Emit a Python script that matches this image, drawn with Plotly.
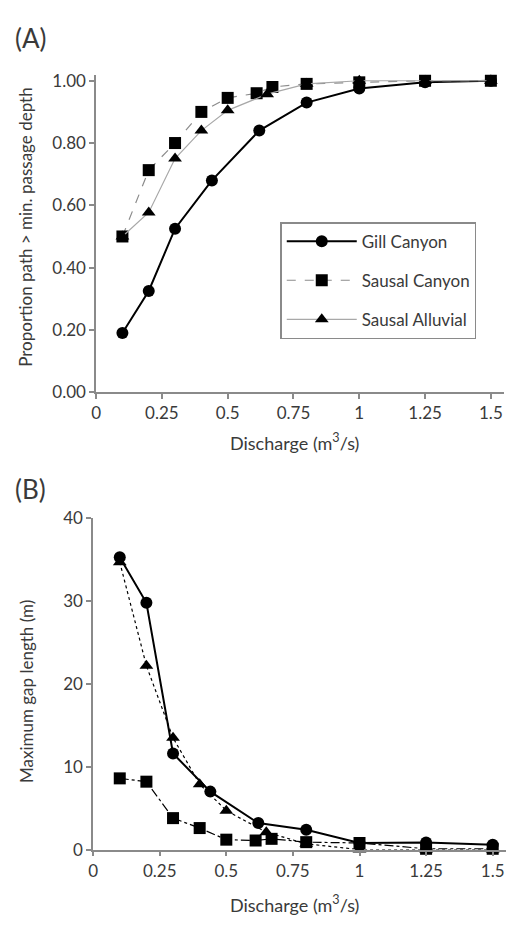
import plotly.graph_objects as go

# ---- Data (panel A: proportion of path deeper than min. passage depth) ----
gill_x = [0.1, 0.2, 0.3, 0.44, 0.62, 0.8, 1.0, 1.25, 1.5]
gill_prop = [0.19, 0.325, 0.525, 0.68, 0.84, 0.93, 0.975, 0.995, 1.0]

scan_x = [0.1, 0.2, 0.3, 0.4, 0.5, 0.61, 0.67, 0.8, 1.0, 1.25, 1.5]
scan_prop = [0.50, 0.713, 0.80, 0.90, 0.945, 0.96, 0.98, 0.99, 0.995, 1.0, 1.0]

sall_x = [0.1, 0.2, 0.3, 0.4, 0.5, 0.65, 0.8, 1.0, 1.25, 1.5]
sall_prop = [0.50, 0.577, 0.75, 0.84, 0.905, 0.957, 0.99, 1.0, 1.0, 1.0]

# ---- Data (panel B: maximum gap length, m) ----
gill_gap = [35.3, 29.8, 11.6, 7.0, 3.2, 2.4, 0.8, 0.85, 0.6]
scan_gap = [8.6, 8.2, 3.8, 2.6, 1.2, 1.1, 1.3, 0.9, 0.8, 0.1, 0.1]
sall_gap = [34.7, 22.2, 13.5, 7.9, 4.7, 2.1, 0.7, 0.0, 0.0, 0.0]

x_ticks = [0, 0.25, 0.5, 0.75, 1, 1.25, 1.5]
x_tick_labels = ["0", "0.25", "0.5", "0.75", "1", "1.25", "1.5"]
ya_ticks = [0, 0.2, 0.4, 0.6, 0.8, 1.0]
yb_ticks = [0, 10, 20, 30, 40]

FONT = "Lato"
TXT = "#3a3a3a"
AX = "#8a8a8a"
W, H = 507, 929

fig = go.Figure()

# Panel A
fig.add_trace(go.Scatter(x=gill_x, y=gill_prop, name="Gill Canyon", mode="lines+markers",
                         line=dict(color="black", width=2), marker=dict(symbol="circle", size=12, color="black"),
                         xaxis="x", yaxis="y", legendgroup="g1", cliponaxis=False))
fig.add_trace(go.Scatter(x=scan_x, y=scan_prop, name="Sausal Canyon", mode="lines+markers",
                         line=dict(color="#8c8c8c", width=1.2, dash="dash"), marker=dict(symbol="square", size=12, color="black"),
                         xaxis="x", yaxis="y", legendgroup="g2", cliponaxis=False))
fig.add_trace(go.Scatter(x=sall_x, y=sall_prop, name="Sausal Alluvial", mode="lines+markers",
                         line=dict(color="#a8a8a8", width=1.2), marker=dict(symbol="triangle-up", size=12, color="black"),
                         xaxis="x", yaxis="y", legendgroup="g3", cliponaxis=False))

# Panel B
fig.add_trace(go.Scatter(x=gill_x, y=gill_gap, name="Gill Canyon", mode="lines+markers", showlegend=False,
                         line=dict(color="black", width=2), marker=dict(symbol="circle", size=12, color="black"),
                         xaxis="x2", yaxis="y2", cliponaxis=False))
fig.add_trace(go.Scatter(x=scan_x, y=scan_gap, name="Sausal Canyon", mode="lines+markers", showlegend=False,
                         line=dict(color="black", width=1.2, dash="dashdot"), marker=dict(symbol="square", size=12, color="black"),
                         xaxis="x2", yaxis="y2", cliponaxis=False))
fig.add_trace(go.Scatter(x=sall_x, y=sall_gap, name="Sausal Alluvial", mode="lines+markers", showlegend=False,
                         line=dict(color="black", width=1.2, dash="dot"), marker=dict(symbol="triangle-up", size=12, color="black"),
                         xaxis="x2", yaxis="y2", cliponaxis=False))

axis_common = dict(showline=True, linecolor=AX, linewidth=1.5, ticks="outside", ticklen=5,
                   tickcolor=AX, tickwidth=1.5, showgrid=False, zeroline=False,
                   tickfont=dict(family=FONT, size=17, color=TXT))

def py(px):
    return 1 - px / H

fig.update_layout(
    width=W, height=H, margin=dict(l=0, r=0, t=0, b=0),
    paper_bgcolor="white", plot_bgcolor="white",
    font=dict(family=FONT, color=TXT),
    xaxis=dict(domain=[92 / W, 504 / W], range=[0, 1.55], tickvals=x_ticks, ticktext=x_tick_labels,
               anchor="y", **axis_common),
    yaxis=dict(domain=[py(390), py(65)], range=[0, 1.02], tickvals=ya_ticks, tickformat=".2f",
               anchor="x", **axis_common),
    xaxis2=dict(domain=[89 / W, 506 / W], range=[0, 1.55], tickvals=x_ticks, ticktext=x_tick_labels,
                anchor="y2", **axis_common),
    yaxis2=dict(domain=[py(858), py(519)], range=[0, 40], tickvals=yb_ticks,
                anchor="x2", **axis_common),
    showlegend=True,
    legend=dict(x=278 / W, y=py(216), xanchor="left", yanchor="top",
                bordercolor="#8a8a8a", borderwidth=1.5, bgcolor="white",
                font=dict(family=FONT, size=17, color=TXT),
                itemwidth=70, tracegroupgap=14),
)

ann = [
    dict(text="(A)", x=8 / W, y=py(28), xanchor="left", yanchor="middle", font=dict(size=26)),
    dict(text="(B)", x=8 / W, y=py(489), xanchor="left", yanchor="middle", font=dict(size=26)),
    dict(text="Discharge (m<sup>3</sup>/s)", x=292 / W, y=py(441), xanchor="center", yanchor="middle", font=dict(size=18)),
    dict(text="Discharge (m<sup>3</sup>/s)", x=292 / W, y=py(914), xanchor="center", yanchor="middle", font=dict(size=18)),
    dict(text="Proportion path > min. passage depth", x=20 / W, y=py(221), textangle=-90,
         xanchor="center", yanchor="middle", font=dict(size=17)),
    dict(text="Maximum gap length (m)", x=21 / W, y=py(696), textangle=-90,
         xanchor="center", yanchor="middle", font=dict(size=17)),
]
for a in ann:
    a["font"].update(family=FONT, color=TXT)
    fig.add_annotation(xref="paper", yref="paper", showarrow=False, **a)

fig.write_html("out.html")
